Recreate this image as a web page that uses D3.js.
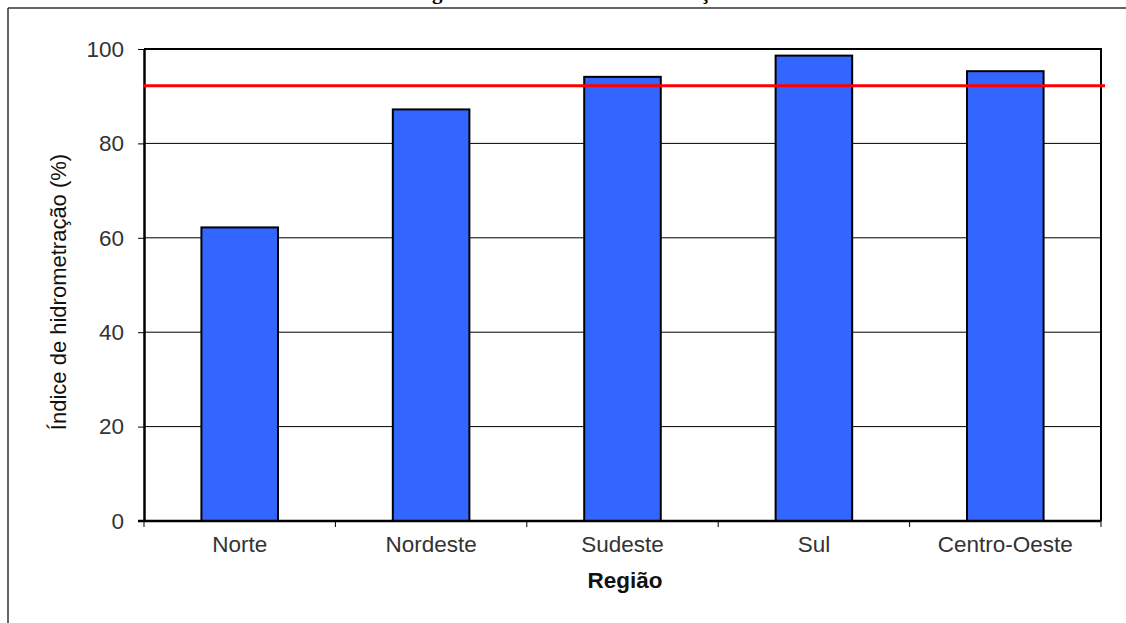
<!DOCTYPE html>
<html><head><meta charset="utf-8">
<script src="https://cdn.jsdelivr.net/npm/d3@7"></script>
<style>body{margin:0;background:#fff;}svg{display:block;}</style>
</head><body>
<svg id="c" width="1126" height="623"></svg>
<script>
const categories = ["Norte", "Nordeste", "Sudeste", "Sul", "Centro-Oeste"];
const values = [62.2, 87.2, 94.1, 98.6, 95.3];
const referenceValue = 92.2;
const yTicks = [0, 20, 40, 60, 80, 100];
const titleText = "Figura 5 – Índice de hidrometração";
const xLabel = "Região";
const yLabel = "Índice de hidrometração (%)";

const svg = d3.select("#c");
const L = 144, R = 1101, T = 49, B = 521;
const x = d3.scaleBand().domain(categories).range([L, R]).paddingInner(0.6).paddingOuter(0.3);
const y = d3.scaleLinear().domain([0, 100]).range([B, T]);
const font = "Liberation Sans, Arial, sans-serif";

// outer frame and clipped title
svg.append("text").attr("x", 572).attr("y", -1).attr("text-anchor", "middle")
  .attr("font-family", "Liberation Serif, Times New Roman, serif").attr("font-weight", "bold")
  .attr("font-size", 21).attr("fill", "#000").text(titleText);
svg.append("line").attr("x1", 8).attr("x2", 1126).attr("y1", 8).attr("y2", 8).attr("stroke", "#333").attr("stroke-width", 1.5);
svg.append("line").attr("x1", 8).attr("x2", 8).attr("y1", 8).attr("y2", 623).attr("stroke", "#333").attr("stroke-width", 1.5);

// gridlines
svg.append("g").selectAll("line").data(yTicks.filter(d => d > 0 && d < 100)).join("line")
  .attr("x1", L).attr("x2", R).attr("y1", d => y(d)).attr("y2", d => y(d))
  .attr("stroke", "#000").attr("stroke-width", 1);

// bars
svg.append("g").selectAll("rect").data(values).join("rect")
  .attr("x", (d, i) => x(categories[i])).attr("width", x.bandwidth())
  .attr("y", d => y(d)).attr("height", d => y(0) - y(d))
  .attr("fill", "#3366FF").attr("stroke", "#000").attr("stroke-width", 2);

// plot border top/right
svg.append("path").attr("d", `M${L},${T}H${R}V${B}`).attr("fill", "none").attr("stroke", "#000").attr("stroke-width", 2);

// y axis
const yAxis = d3.axisLeft(y).tickValues(yTicks).tickSize(6).tickSizeOuter(0).tickPadding(14);
const gy = svg.append("g").attr("transform", `translate(${L},0)`).call(yAxis);
gy.select(".domain").attr("stroke", "#000").attr("stroke-width", 2.5);
gy.selectAll(".tick line").attr("stroke", "#000").attr("stroke-width", 1);
gy.selectAll(".tick text").attr("font-family", font).attr("font-size", 22.5).attr("fill", "#333");

// x axis with ticks at category boundaries
const gx = svg.append("g").attr("transform", `translate(0,${B})`);
gx.append("line").attr("x1", L - 6).attr("x2", R).attr("stroke", "#000").attr("stroke-width", 2.5);
const step = x.step();
const firstEdge = x(categories[0]) - (step - x.bandwidth()) / 2;
const bounds = d3.range(categories.length + 1).map(k => firstEdge + k * step);
gx.selectAll("line.b").data(bounds).join("line").attr("class", "b")
  .attr("x1", d => d).attr("x2", d => d).attr("y1", 0).attr("y2", 6).attr("stroke", "#000").attr("stroke-width", 1);
gx.selectAll("text.c").data(categories).join("text").attr("class", "c")
  .attr("x", d => x(d) + x.bandwidth() / 2).attr("y", 31).attr("text-anchor", "middle")
  .attr("font-family", font).attr("font-size", 22.5).attr("fill", "#333").text(d => d);

// reference line
svg.append("line").attr("x1", L - 1).attr("x2", R + 4).attr("y1", y(referenceValue)).attr("y2", y(referenceValue))
  .attr("stroke", "#FF0000").attr("stroke-width", 3);

// axis titles
svg.append("text").attr("x", 625).attr("y", 588).attr("text-anchor", "middle")
  .attr("font-family", font).attr("font-weight", "bold").attr("font-size", 22.5).attr("fill", "#111").text(xLabel);
svg.append("text").attr("transform", "translate(66,292) rotate(-90)").attr("text-anchor", "middle")
  .attr("font-family", font).attr("font-size", 22).attr("fill", "#111").text(yLabel);
</script>
</body></html>
